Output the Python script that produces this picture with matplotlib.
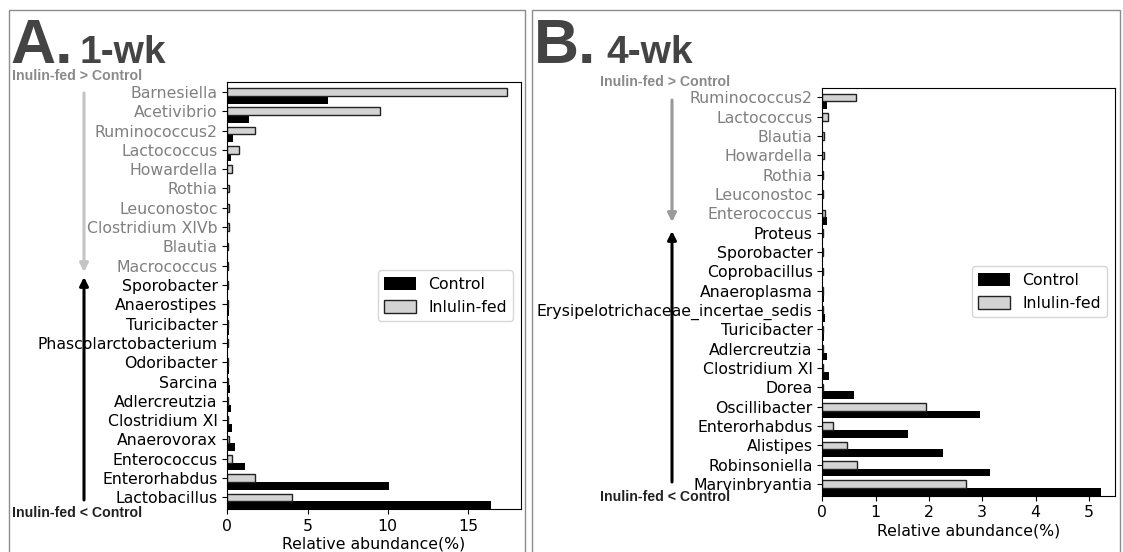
import matplotlib
matplotlib.use("Agg")
import matplotlib.pyplot as plt
import numpy as np
from matplotlib.patches import Rectangle, FancyArrowPatch

# genus order is top -> bottom as shown on the y axis
genera_1wk = ["Barnesiella", "Acetivibrio", "Ruminococcus2", "Lactococcus", "Howardella",
              "Rothia", "Leuconostoc", "Clostridium XIVb", "Blautia", "Macrococcus",
              "Sporobacter", "Anaerostipes", "Turicibacter", "Phascolarctobacterium",
              "Odoribacter", "Sarcina", "Adlercreutzia", "Clostridium XI", "Anaerovorax",
              "Enterococcus", "Enterorhabdus", "Lactobacillus"]
inulin_1wk = [17.42, 9.50, 1.71, 0.76, 0.30, 0.08, 0.08, 0.08, 0.06, 0.03,
              0.02, 0.02, 0.03, 0.02, 0.04, 0.03, 0.05, 0.05, 0.10, 0.28, 1.71, 4.03]
control_1wk = [6.29, 1.33, 0.33, 0.22, 0.06, 0.06, 0.07, 0.06, 0.04, 0.02,
               0.06, 0.08, 0.09, 0.07, 0.12, 0.18, 0.20, 0.28, 0.50, 1.08, 10.07, 16.42]
n_up_1wk = 10   # first n genera: Inulin-fed > Control

genera_4wk = ["Ruminococcus2", "Lactococcus", "Blautia", "Howardella", "Rothia",
              "Leuconostoc", "Enterococcus", "Proteus", "Sporobacter", "Coprobacillus",
              "Anaeroplasma", "Erysipelotrichaceae_incertae_sedis", "Turicibacter",
              "Adlercreutzia", "Clostridium XI", "Dorea", "Oscillibacter", "Enterorhabdus",
              "Alistipes", "Robinsoniella", "Marvinbryantia"]
inulin_4wk = [0.64, 0.10, 0.03, 0.03, 0.02, 0.01, 0.06, 0.005, 0.005, 0.005,
              0.005, 0.01, 0.01, 0.01, 0.01, 0.01, 1.95, 0.21, 0.47, 0.65, 2.69]
control_4wk = [0.08, 0.02, 0.02, 0.02, 0.01, 0.005, 0.08, 0.02, 0.02, 0.02,
               0.03, 0.05, 0.03, 0.09, 0.13, 0.59, 2.96, 1.61, 2.27, 3.15, 5.23]
n_up_4wk = 7

W, H = 1123, 552
fig = plt.figure(figsize=(W / 100, H / 100), dpi=100)

HEAD = ["Liberation Sans", "DejaVu Sans"]
GREY_LBL = "#808080"


def fx(px):
    return px / W


def fy(py):
    return 1 - py / H


def panel(rect, genera, inulin, control, n_up):
    ax = fig.add_axes(rect)
    n = len(genera)
    y = np.arange(n)[::-1]
    ax.barh(y - 0.4, control, height=0.4, color="black", label="Control")
    ax.barh(y, inulin, height=0.4, color="#d3d3d3", edgecolor="#222222",
            linewidth=1.0, label="Inlulin-fed")
    ax.set_ylim(-0.6, n - 0.5)
    ax.set_yticks(y)
    ax.set_yticklabels(genera, fontsize=11.3)
    for i, lab in enumerate(ax.get_yticklabels()):
        lab.set_color(GREY_LBL if i < n_up else "black")
    ax.tick_params(axis="x", labelsize=11.3)
    ax.set_xlabel("Relative abundance(%)", fontsize=11.3, labelpad=2)
    ax.legend(loc="center right", fontsize=11.3, edgecolor="#cccccc",
              handleheight=0.9)
    return ax


panel([fx(227.3), fy(509), fx(520.7) - fx(227.3), fy(82.3) - fy(509)],
      genera_1wk, inulin_1wk, control_1wk, n_up_1wk)
panel([fx(822.3), fy(495.7), fx(1115) - fx(822.3), fy(87.7) - fy(495.7)],
      genera_4wk, inulin_4wk, control_4wk, n_up_4wk)

# panel frames
for x0, x1 in [(8.5, 524.5), (531.5, 1119.5)]:
    fig.patches.append(Rectangle((fx(x0), -0.05), fx(x1) - fx(x0), fy(10) + 0.05,
                                 transform=fig.transFigure, fill=False,
                                 edgecolor="#8c8c8c", linewidth=1.0))

# panel headings
for x, letter, xw, week in [(10, "A.", 79, "1-wk"), (534, "B.", 606, "4-wk")]:
    fig.text(fx(x), fy(63), letter, fontsize=45, fontweight="bold", color="#444444",
             family=HEAD, va="baseline")
    fig.text(fx(xw), fy(63), week, fontsize=28, fontweight="bold", color="#444444",
             family=HEAD, va="baseline")

# direction arrows and captions
for xa, xt, y_top, y_gmid, y_bmid, y_bot, y_tt, y_bt, gcol in [
        (84, 12, 93, 272, 277, 500, 76, 513, "#c4c4c4"),
        (672, 600, 100, 222, 231, 482, 82, 497, "#9a9a9a")]:
    fig.text(fx(xt), fy(y_tt), "Inulin-fed > Control", fontsize=10.2, fontweight="bold",
             color="#8a8a8a", family=HEAD, va="center")
    fig.text(fx(xt), fy(y_bt), "Inulin-fed < Control", fontsize=10.2, fontweight="bold",
             color="#222222", family=HEAD, va="center")
    fig.add_artist(FancyArrowPatch(
        (fx(xa), fy(y_top)), (fx(xa), fy(y_gmid)), transform=fig.transFigure,
        arrowstyle="-|>,head_length=5,head_width=2.5", color=gcol, linewidth=2.2,
        shrinkA=0, shrinkB=0))
    fig.add_artist(FancyArrowPatch(
        (fx(xa), fy(y_bot)), (fx(xa), fy(y_bmid)), transform=fig.transFigure,
        arrowstyle="-|>,head_length=5,head_width=2.5", color="black", linewidth=2.2,
        shrinkA=0, shrinkB=0))

fig.savefig("out.png", dpi=100)
